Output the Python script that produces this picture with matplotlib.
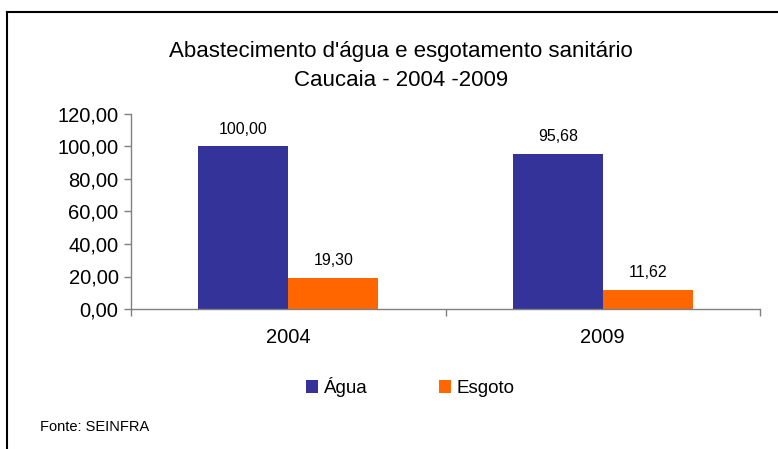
import matplotlib

matplotlib.use("Agg")
import matplotlib.pyplot as plt
from matplotlib.lines import Line2D
import numpy as np

plt.rcParams["font.family"] = ["Liberation Sans", "DejaVu Sans"]

anos = ["2004", "2009"]
agua = [100.00, 95.68]
esgoto = [19.30, 11.62]
series_labels = ["Água", "Esgoto"]
yticks = [0, 20, 40, 60, 80, 100, 120]

blue = "#333399"
orange = "#FF6600"
W, H = 778, 449


def fmt(v):
    return f"{v:.2f}".replace(".", ",")


fig = plt.figure(figsize=(W / 100, H / 100), dpi=100)
ax = fig.add_axes([131 / W, (H - 309) / H, (760 - 131) / W, (309 - 114) / H])

x = np.arange(len(anos))
bw = 0.286
b1 = ax.bar(x - bw / 2, agua, bw, color=blue, label=series_labels[0])
b2 = ax.bar(x + bw / 2, esgoto, bw, color=orange, label=series_labels[1])

for bars, vals in ((b1, agua), (b2, esgoto)):
    for rect, v in zip(bars, vals):
        ax.annotate(fmt(v), (rect.get_x() + rect.get_width() / 2, v),
                    xytext=(0, 7), textcoords="offset points",
                    ha="center", va="bottom", fontsize=11.5)

ax.set_xlim(-0.5, len(anos) - 0.5)
ax.set_ylim(0, 120)
ax.set_yticks(yticks, [fmt(v) for v in yticks], fontsize=14.5)
ax.set_xticks(np.arange(len(anos) + 1) - 0.5, [""] * (len(anos) + 1))
ax.set_xticks(x, anos, minor=True, fontsize=14.5)
ax.tick_params(axis="x", which="minor", length=0, pad=14)
ax.tick_params(axis="both", which="major", length=5, color="#808080", width=1)
ax.tick_params(axis="y", pad=4)
for side in ("top", "right"):
    ax.spines[side].set_visible(False)
for side in ("left", "bottom"):
    ax.spines[side].set_color("#808080")
    ax.spines[side].set_linewidth(1)

fig.text(401 / W, 1 - 51 / H, "Abastecimento d'água e esgotamento sanitário",
         ha="center", va="center", fontsize=16)
fig.text(401 / W, 1 - 81 / H, "Caucaia - 2004 -2009",
         ha="center", va="center", fontsize=16)

fig.legend(handles=[b1, b2], labels=series_labels, loc="center",
           bbox_to_anchor=(410 / W, 1 - 387 / H), ncol=2, frameon=False,
           fontsize=13.5, handlelength=0.65, handleheight=0.65,
           handletextpad=0.3, columnspacing=3.8)

fig.text(40 / W, 1 - 427 / H, "Fonte: SEINFRA", ha="left", va="center", fontsize=10.5)

fig.add_artist(Line2D([7 / W, 1], [1 - 12 / H, 1 - 12 / H], color="black", lw=1.5))
fig.add_artist(Line2D([7 / W, 7 / W], [0, 1 - 12 / H], color="black", lw=1.5))

fig.savefig("out.png", dpi=100)
